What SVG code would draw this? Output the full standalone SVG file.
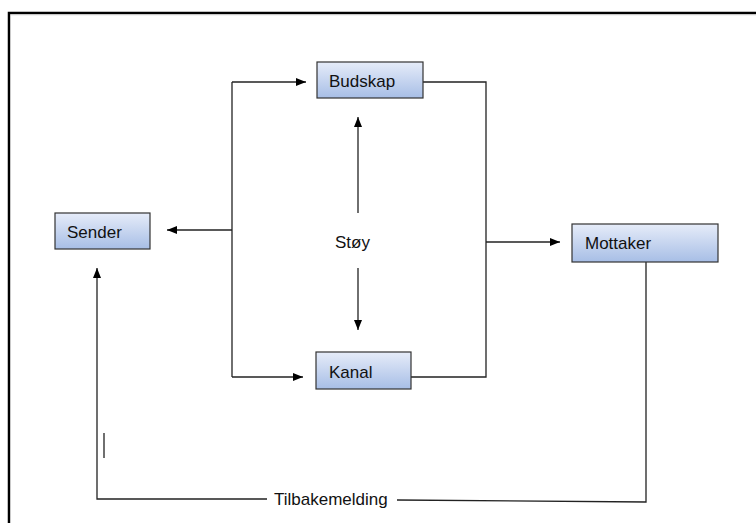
<svg xmlns="http://www.w3.org/2000/svg" width="756" height="523" viewBox="0 0 756 523">
<defs>
<linearGradient id="g" x1="0" y1="0" x2="0" y2="1">
<stop offset="0" stop-color="#e6ecf9"/>
<stop offset="1" stop-color="#a7bee6"/>
</linearGradient>
<marker id="ah" markerWidth="10" markerHeight="8" refX="10" refY="4" orient="auto" markerUnits="userSpaceOnUse">
<path d="M0,0 L10,4 L0,8 Z" fill="#000"/>
</marker>
</defs>
<style>
.box{fill:url(#g);stroke:#333;stroke-width:1.2}
.lbl{font-family:"Liberation Sans",Arial,sans-serif;font-size:17px;fill:#111}
.ln{fill:none;stroke:#222;stroke-width:1.3}
.ar{fill:none;stroke:#222;stroke-width:1.3;marker-end:url(#ah)}
</style>
<rect width="756" height="523" fill="#fff"/>
<path d="M9,523 V13 H756" fill="none" stroke="#000" stroke-width="2.5"/>
<path d="M10.5,523 V14.8 H756" fill="none" stroke="#ccc" stroke-width="0.8"/>
<g id="connectors">
<path class="ln" d="M232,82 V377"/>
<path class="ar" d="M232,82 H306"/>
<path class="ar" d="M232,377 H303"/>
<path class="ar" d="M232,230 H167"/>
<path class="ln" d="M423,82 H486 V377 H411"/>
<path class="ar" d="M486,242 H560"/>
<path class="ar" d="M358,213 V117"/>
<path class="ar" d="M358,268 V330"/>
<path class="ln" d="M646,262 V502 L397,500"/>
<path class="ar" d="M267,499 H97 V268"/>
<path class="ln" d="M104,433 V458"/>
</g>
<g id="budskap">
<rect class="box" x="317" y="62" width="106" height="36"/>
<text class="lbl" x="329" y="87">Budskap</text>
</g>
<g id="sender">
<rect class="box" x="55" y="213" width="95" height="36"/>
<text class="lbl" x="67" y="238">Sender</text>
</g>
<g id="kanal">
<rect class="box" x="316" y="352" width="95" height="37"/>
<text class="lbl" x="329" y="378">Kanal</text>
</g>
<g id="mottaker">
<rect class="box" x="572" y="224" width="146" height="38"/>
<text class="lbl" x="585" y="249">Mottaker</text>
</g>
<g id="stoy">
<text class="lbl" x="335" y="248">Støy</text>
</g>
<g id="tilbakemelding">
<text class="lbl" x="274" y="505">Tilbakemelding</text>
</g>
</svg>
